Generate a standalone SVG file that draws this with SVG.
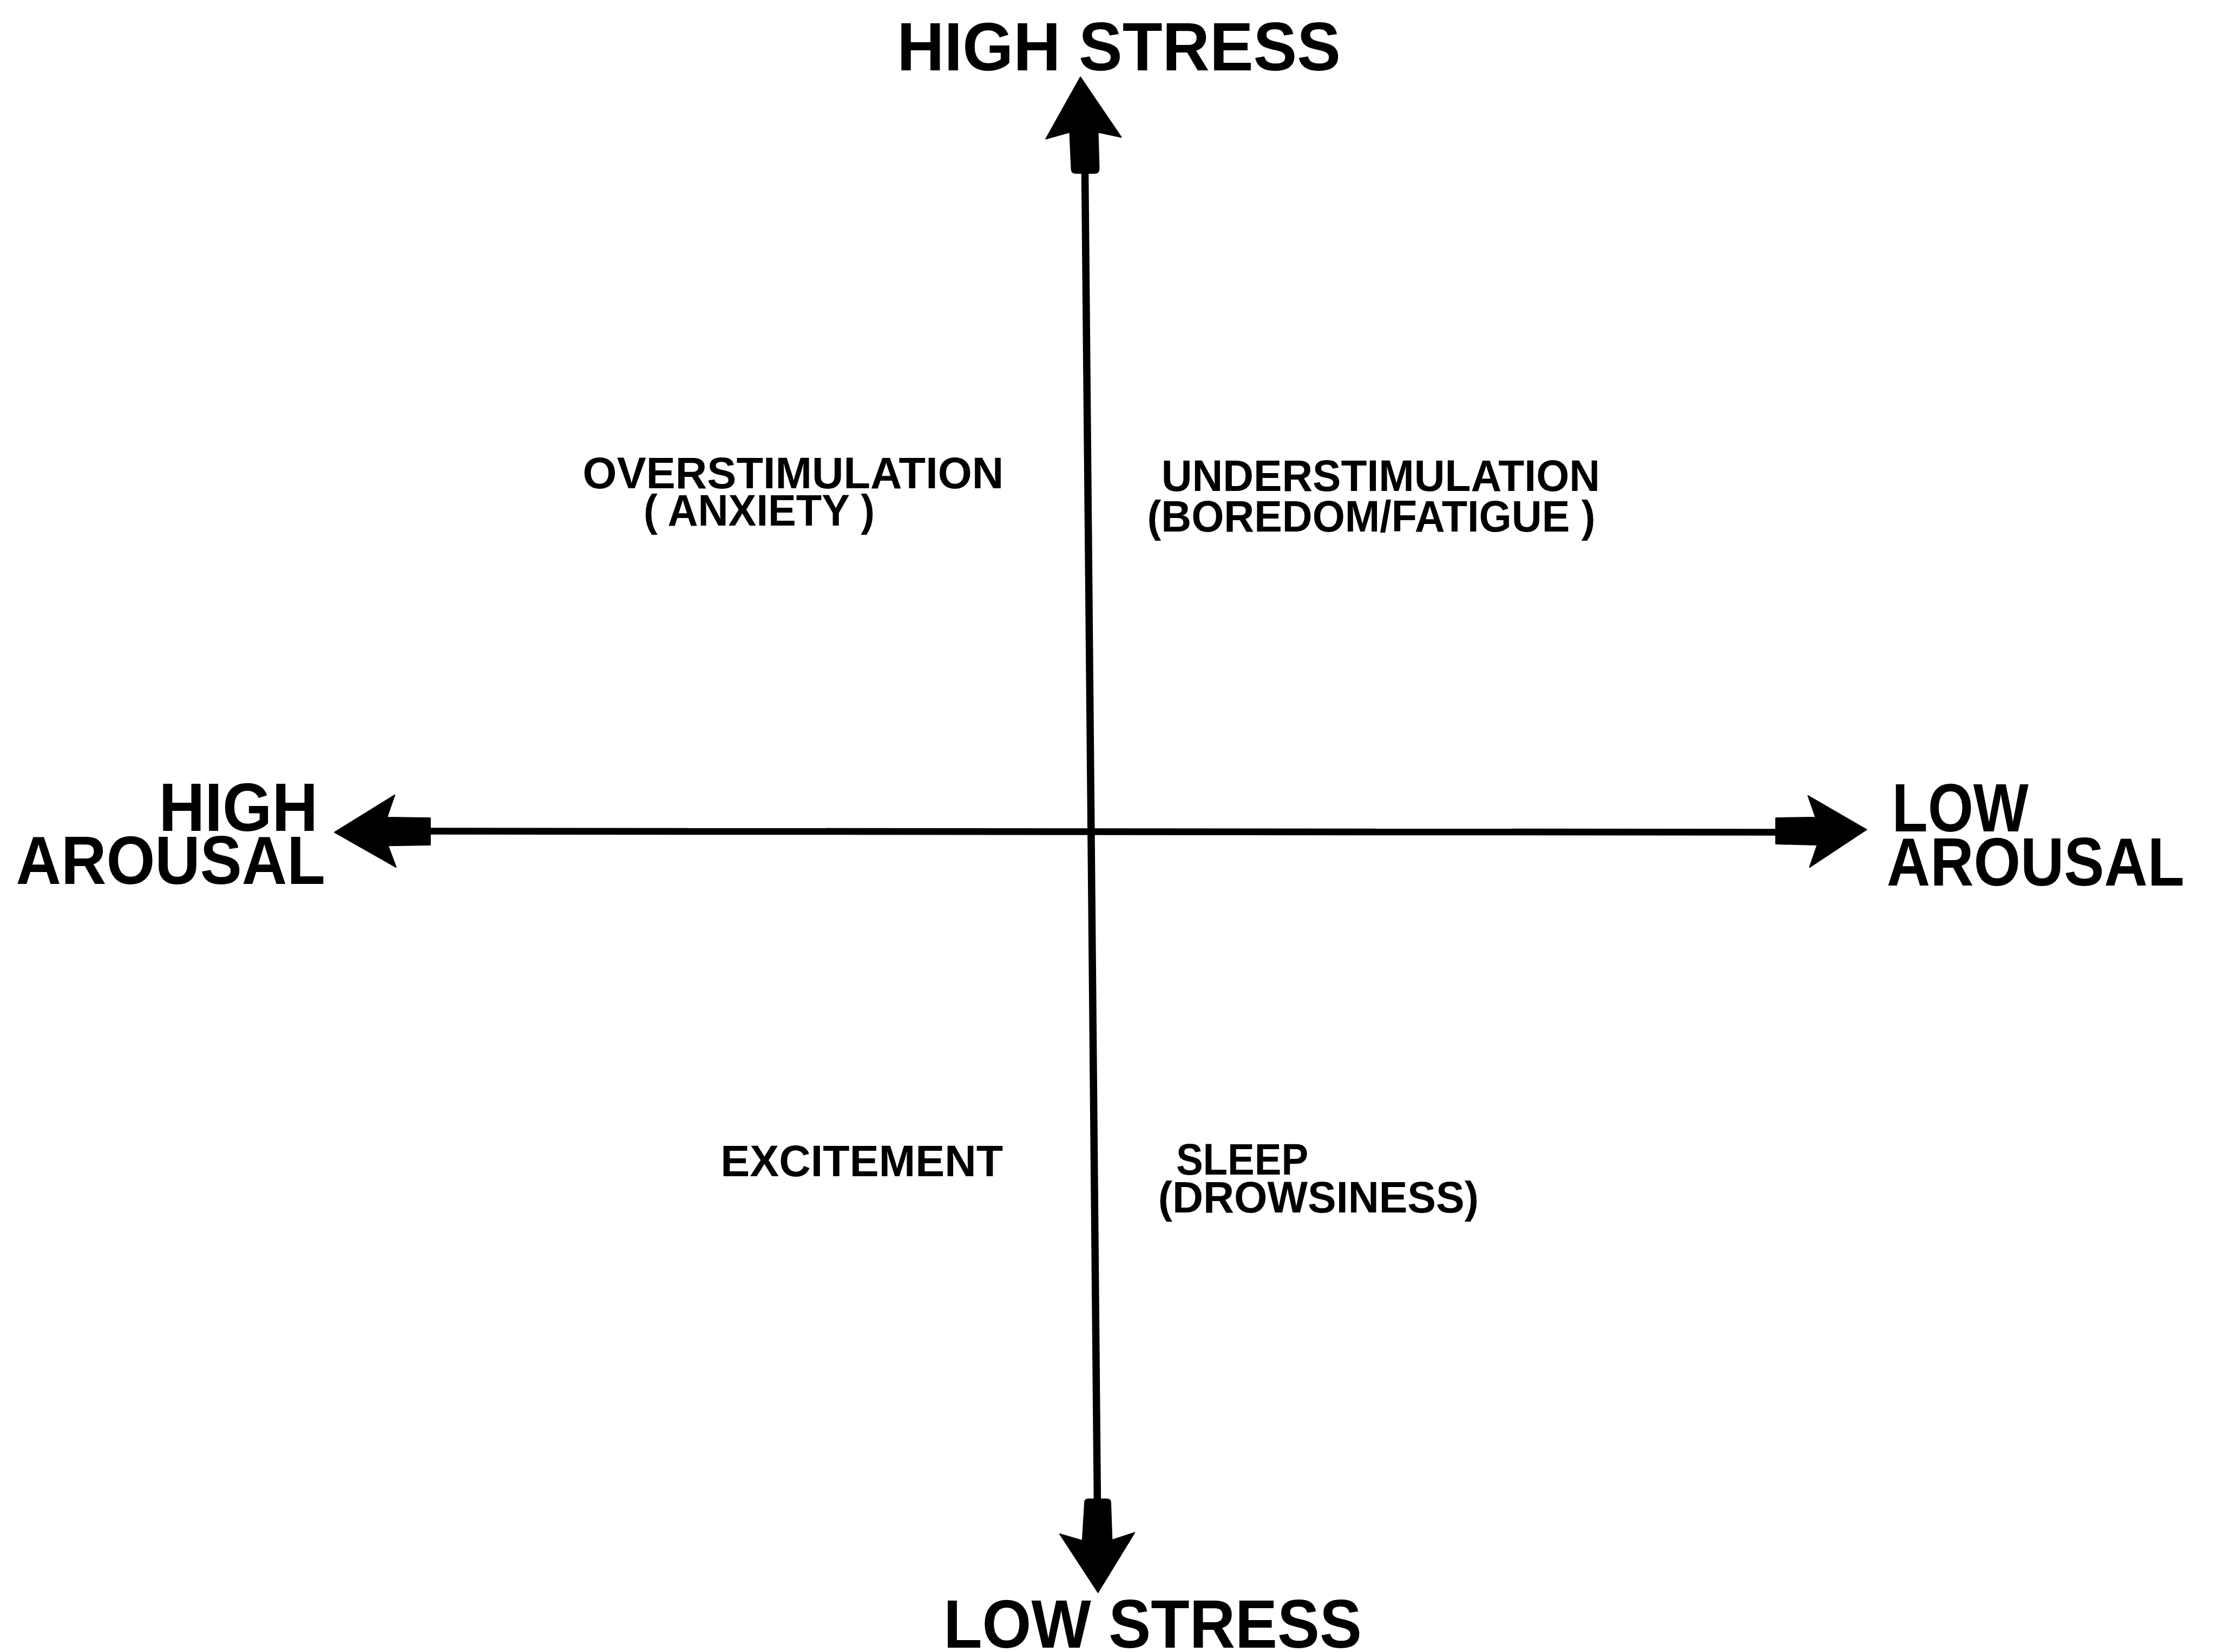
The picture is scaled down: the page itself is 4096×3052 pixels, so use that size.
<svg xmlns="http://www.w3.org/2000/svg" width="4096" height="3052" viewBox="0 0 4096 3052">
<style>
.big{font-family:"Liberation Sans",Arial,sans-serif;font-weight:bold;font-size:127px;fill:#000}
.small{font-family:"Liberation Sans",Arial,sans-serif;font-weight:bold;font-size:82px;fill:#000}
.axis{stroke:#000;fill:none;stroke-linecap:butt}
.head{fill:#000;stroke:#000;stroke-width:2;stroke-linejoin:round}
</style>
<rect width="4096" height="3052" fill="#fff"/>
<g id="connectors">
<line class="axis" x1="2004.5" y1="318" x2="2027.4" y2="2771" stroke-width="13.5"/>
<line class="axis" x1="793" y1="1535.5" x2="3283" y2="1537.5" stroke-width="12.5"/>
<path class="head" d="M1996.1,142.4 L2071.6,253.5 L2028.6,244.3 L2030.5,312 Q2030.5,320 2022,320 L1988,320 Q1979.5,320 1979.5,312 L1976.4,244.3 L1932.3,256.6 Z"/>
<path class="head" d="M2028.6,2942 L2096.2,2831.5 L2054.4,2845.1 L2051.9,2776 Q2051.9,2769.5 2045,2769.5 L2011,2769.5 Q2004.1,2769.5 2004.1,2776 L1999.8,2846.3 L1958,2834 Z"/>
<path class="head" d="M618.1,1537.6 L729.2,1468.8 L715.1,1510 L794.9,1511.2 L794.9,1561 L716.9,1562.2 L731.7,1602.1 Z"/>
<path class="head" d="M3448.4,1532.7 L3340.4,1470.1 L3354.4,1510 L3280.9,1511.2 L3280.9,1559.1 L3357.5,1560.9 L3343.4,1602.1 Z"/>
</g>
<g id="high-stress"><text class="big" x="1657.3" y="129.5" textLength="819.5" lengthAdjust="spacingAndGlyphs">HIGH STRESS</text></g>
<g id="low-stress"><text class="big" x="1743.2" y="3044" textLength="772.8" lengthAdjust="spacingAndGlyphs">LOW STRESS</text></g>
<g id="high-arousal">
<text class="big" x="293.4" y="1534.5" textLength="294" lengthAdjust="spacingAndGlyphs">HIGH</text>
<text class="big" x="29.5" y="1632.7" textLength="571.4" lengthAdjust="spacingAndGlyphs">AROUSAL</text>
</g>
<g id="low-arousal">
<text class="big" x="3495.6" y="1535.8" textLength="252.3" lengthAdjust="spacingAndGlyphs">LOW</text>
<text class="big" x="3485.8" y="1635.8" textLength="550" lengthAdjust="spacingAndGlyphs">AROUSAL</text>
</g>
<g id="overstimulation">
<text class="small" x="1076.6" y="902.3" textLength="777.7" lengthAdjust="spacingAndGlyphs">OVERSTIMULATION</text>
<text class="small" x="1188.9" y="971" textLength="427.2" lengthAdjust="spacingAndGlyphs">( ANXIETY )</text>
</g>
<g id="understimulation">
<text class="small" x="2145.8" y="907.2" textLength="810.2" lengthAdjust="spacingAndGlyphs">UNDERSTIMULATION</text>
<text class="small" x="2119.5" y="982.1" textLength="828" lengthAdjust="spacingAndGlyphs">(BOREDOM/FATIGUE )</text>
</g>
<g id="excitement">
<text class="small" x="1331.3" y="2172.9" textLength="521.8" lengthAdjust="spacingAndGlyphs">EXCITEMENT</text>
</g>
<g id="sleep">
<text class="small" x="2172.9" y="2169.8" textLength="244.3" lengthAdjust="spacingAndGlyphs">SLEEP</text>
<text class="small" x="2139.7" y="2240.4" textLength="592.3" lengthAdjust="spacingAndGlyphs">(DROWSINESS)</text>
</g>
</svg>
